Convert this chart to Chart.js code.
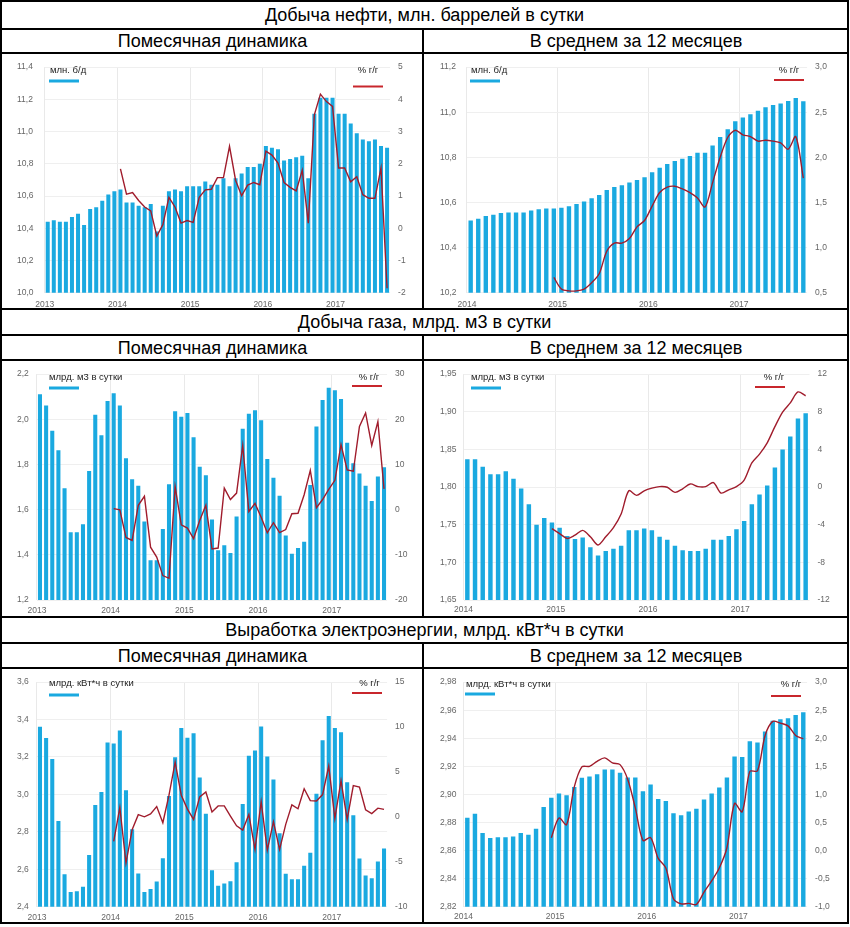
<!DOCTYPE html>
<html lang="ru">
<head>
<meta charset="utf-8">
<title>Добыча нефти, газа и выработка электроэнергии</title>
<script src="https://cdn.jsdelivr.net/npm/chart.js@4.4.1/dist/chart.umd.min.js"></script>
<style>
  html, body { margin: 0; padding: 0; background: #fff; }
  #page { position: relative; width: 850px; height: 927px; overflow: hidden; font-family: "Liberation Sans", Arial, sans-serif; }
  .hl { position: absolute; height: 2px; background: #000; }
  .vl { position: absolute; width: 2px; background: #000; }
  .cell { position: absolute; display: flex; align-items: center; justify-content: center; font-size: 18px; color: #000; white-space: nowrap; }
  canvas { position: absolute; }
</style>
</head>
<body>
<div id="page">
  <div class="cell" style="left:2px;top:2px;width:845px;height:26px">Добыча нефти, млн. баррелей в сутки</div>
  <div class="cell" style="left:2px;top:29px;width:421px;height:24px">Помесячная динамика</div>
  <div class="cell" style="left:425px;top:29px;width:422px;height:24px">В среднем за 12 месяцев</div>

  <div class="cell" style="left:2px;top:310px;width:845px;height:25px">Добыча газа, млрд. м3 в сутки</div>
  <div class="cell" style="left:2px;top:336px;width:421px;height:24px">Помесячная динамика</div>
  <div class="cell" style="left:425px;top:336px;width:422px;height:24px">В среднем за 12 месяцев</div>

  <div class="cell" style="left:2px;top:618px;width:845px;height:25px">Выработка электроэнергии, млрд. кВт*ч в сутки</div>
  <div class="cell" style="left:2px;top:644px;width:421px;height:24px">Помесячная динамика</div>
  <div class="cell" style="left:425px;top:644px;width:422px;height:24px">В среднем за 12 месяцев</div>

  <canvas id="c1" width="419" height="254" style="left:2px;top:54px"></canvas>
  <canvas id="c2" width="421" height="254" style="left:425px;top:54px"></canvas>
  <canvas id="c3" width="419" height="255" style="left:2px;top:361px"></canvas>
  <canvas id="c4" width="421" height="255" style="left:425px;top:361px"></canvas>
  <canvas id="c5" width="419" height="253" style="left:2px;top:669px"></canvas>
  <canvas id="c6" width="421" height="253" style="left:425px;top:669px"></canvas>

  <div class="hl" style="left:0;top:0;width:849px"></div>
  <div class="hl" style="left:0;top:28px;width:849px"></div>
  <div class="hl" style="left:0;top:52px;width:849px"></div>
  <div class="hl" style="left:0;top:308px;width:849px"></div>
  <div class="hl" style="left:0;top:334px;width:849px"></div>
  <div class="hl" style="left:0;top:359px;width:849px"></div>
  <div class="hl" style="left:0;top:616px;width:849px"></div>
  <div class="hl" style="left:0;top:642px;width:849px"></div>
  <div class="hl" style="left:0;top:667px;width:849px"></div>
  <div class="hl" style="left:0;top:922px;width:849px"></div>
  <div class="vl" style="left:0;top:0;height:924px"></div>
  <div class="vl" style="left:847px;top:0;height:924px"></div>
  <div class="vl" style="left:422px;top:28px;height:282px"></div>
  <div class="vl" style="left:422px;top:334px;height:284px"></div>
  <div class="vl" style="left:422px;top:642px;height:282px"></div>
</div>
<script>
// tick labels on the time axis
var years = ['2013', '2014', '2015', '2016', '2017'];

// oil, mln barrels per day: monthly Jan 2013 - Sep 2017
var oilMonthly = [
  10.44, 10.45, 10.44, 10.44, 10.47, 10.49, 10.42, 10.52, 10.53, 10.57, 10.61, 10.63,
  10.64, 10.56, 10.56, 10.54, 10.53, 10.55, 10.38, 10.54, 10.63, 10.64, 10.63, 10.66,
  10.66, 10.66, 10.69, 10.67, 10.67, 10.71, 10.66, 10.71, 10.74, 10.78, 10.78, 10.80,
  10.91, 10.90, 10.89, 10.82, 10.83, 10.84, 10.85, 10.71, 11.11, 11.21, 11.21, 11.21,
  11.11, 11.11, 11.05, 10.99, 10.95, 10.94, 10.95, 10.91, 10.90
];
// % y/y, Jan 2014 - Sep 2017
var oilMonthlyYoY = [
  1.84, 1.06, 1.11, 0.86, 0.66, 0.54, -0.24, 0.11, 0.96, 0.66, 0.16, 0.24,
  0.18, 0.96, 1.19, 1.21, 1.57, 1.57, 2.54, 1.49, 1.01, 1.34, 1.42, 1.35,
  2.39, 2.27, 2.02, 1.42, 1.27, 1.16, 1.80, 0.16, 3.52, 4.16, 3.93, 3.78,
  1.87, 1.87, 1.44, 1.60, 1.04, 0.93, 0.93, 1.87, -1.86
];
// 12-month average, Jan 2014 - Sep 2017
var oilAvg = [
  10.520, 10.528, 10.540, 10.545, 10.553, 10.555, 10.555, 10.555, 10.564, 10.570, 10.573, 10.573,
  10.576, 10.583, 10.593, 10.604, 10.619, 10.633, 10.655, 10.668, 10.676, 10.688, 10.700, 10.712,
  10.734, 10.754, 10.771, 10.784, 10.794, 10.806, 10.820, 10.820, 10.852, 10.890, 10.925, 10.960,
  10.977, 10.991, 11.007, 11.022, 11.032, 11.039, 11.050, 11.063, 11.049
];
// % y/y of the average, Dec 2014 - Sep 2017
var oilAvgYoY = [
  0.67,
  0.54, 0.52, 0.52, 0.54, 0.61, 0.71, 0.96, 1.05, 1.05, 1.10, 1.23, 1.30,
  1.46, 1.61, 1.67, 1.68, 1.65, 1.61, 1.55, 1.45, 1.72, 2.00, 2.22, 2.30,
  2.25, 2.23, 2.18, 2.19, 2.18, 2.16, 2.09, 2.23, 1.77
];

// gas, bcm per day
var gasMonthly = [
  2.111, 2.061, 1.949, 1.863, 1.695, 1.500, 1.500, 1.535, 1.771, 2.020, 1.929, 2.081,
  2.115, 2.061, 1.828, 1.734, 1.706, 1.547, 1.376, 1.376, 1.514, 1.712, 2.035, 2.011,
  2.028, 1.920, 1.790, 1.752, 1.556, 1.420, 1.442, 1.408, 1.570, 1.958, 2.025, 2.040,
  1.996, 1.824, 1.741, 1.662, 1.486, 1.405, 1.430, 1.458, 1.709, 1.968, 2.085, 2.140,
  2.128, 2.090, 1.896, 1.805, 1.760, 1.706, 1.638, 1.747, 1.788
];
var gasMonthlyYoY = [
  0.23, -0.06, -6.16, -6.8, 0.95, 2.96, -8.3, -10.5, -14.6, -15.2, 5.1, -3.36,
  -4.07, -6.4, -2.4, 1.0, -8.7, -8.5, 4.75, 2.24, 3.67, 14.2, -0.42, 1.38,
  -1.7, -5.1, -2.9, -5.1, -4.4, -0.9, -0.8, 3.3, 8.7, 0.44, 2.24, 4.5,
  6.5, 14.4, 8.8, 8.5, 18.4, 21.4, 14.2, 19.5, 4.6
];
var gasAvg = [
  1.837, 1.837, 1.827, 1.817, 1.817, 1.821, 1.811, 1.798, 1.777, 1.750, 1.759, 1.753,
  1.746, 1.735, 1.731, 1.733, 1.720, 1.709, 1.715, 1.718, 1.722, 1.7425, 1.7425, 1.745,
  1.7425, 1.734, 1.730, 1.722, 1.716, 1.715, 1.715, 1.718, 1.730, 1.730, 1.735, 1.744,
  1.755, 1.777, 1.790, 1.802, 1.826, 1.850, 1.867, 1.891, 1.898
];
var gasAvgYoY = [
  -4.42,
  -4.94, -5.46, -5.11, -4.6, -5.28, -6.15, -5.28, -4.32, -2.87, -0.4, -0.88, -0.4,
  -0.12, 0.05, -0.02, -0.57, -0.19, 0.33, 0.05, 0.05, 0.47, -0.64, -0.29, 0.05,
  0.74, 2.57, 3.5, 4.7, 6.42, 7.97, 8.94, 10.1, 9.7
];

// electricity, bn kWh per day
var elMonthly = [
  3.362, 3.301, 3.189, 2.858, 2.574, 2.479, 2.483, 2.507, 2.676, 2.944, 3.013, 3.277,
  3.272, 3.341, 3.022, 2.814, 2.578, 2.478, 2.495, 2.535, 2.659, 2.992, 3.199, 3.355,
  3.303, 3.327, 3.090, 2.896, 2.595, 2.512, 2.524, 2.536, 2.637, 2.949, 3.206, 3.234,
  3.363, 3.203, 3.079, 2.792, 2.576, 2.547, 2.547, 2.619, 2.688, 3.003, 3.289, 3.419,
  3.355, 3.332, 3.065, 2.889, 2.657, 2.567, 2.552, 2.642, 2.711
];
var elMonthlyYoY = [
  -2.73, 1.04, -5.14, -1.44, 0.25, 0.0, 0.32, 1.15, -0.65, 2.41, 6.08, 2.41,
  0.86, -0.29, 2.23, 2.77, 0.54, 1.22, 1.22, 0.07, -1.0, -1.47, 0.25, -3.63,
  1.69, -3.7, -0.54, -3.63, -0.83, 1.33, 0.9, 3.13, 1.8, 1.76, 2.48, 5.65,
  -0.18, 4.03, -0.29, 3.49, 3.31, 0.79, 0.36, 0.97, 0.83
];
var elAvg = [
  2.8833, 2.8863, 2.8725, 2.8690, 2.8695, 2.8695, 2.8700, 2.8725, 2.8713, 2.8755, 2.8910, 2.8976,
  2.9006, 2.8994, 2.9052, 2.9119, 2.9128, 2.9144, 2.9178, 2.9178, 2.9155, 2.9121, 2.9120, 2.9022,
  2.9070, 2.8967, 2.8953, 2.8865, 2.8851, 2.8879, 2.8897, 2.8964, 2.9006, 2.9049, 2.9120, 2.9270,
  2.9266, 2.9379, 2.9369, 2.9448, 2.9524, 2.9535, 2.9542, 2.9565, 2.9586
];
var elAvgYoY = [
  0.23,
  0.58, 0.46, 1.13, 1.49, 1.50, 1.59, 1.65, 1.56, 1.53, 1.27, 0.76, 0.18,
  0.23, -0.14, -0.31, -0.86, -0.95, -0.94, -0.96, -0.74, -0.54, -0.31, 0.05, 0.84,
  0.69, 1.41, 1.42, 2.05, 2.30, 2.27, 2.22, 2.05, 1.99
];

var BAR = '#1aa9e0';
var LINE = '#a01c2c';
var LEGEND_RED = '#c8262c';
var GRID = '#efefef';
var TICK_FONT = { family: '"Liberation Sans", Arial, sans-serif', size: 8.5 };

function monthLabels(fromYear, count) {
  var out = [];
  years.forEach(function (y) {
    if (+y < fromYear) return;
    for (var m = 1; m <= 12; m++) out.push(y + '-' + (m < 10 ? '0' : '') + m);
  });
  return out.slice(0, count);
}

function fmt(v, dec) {
  return v.toFixed(dec).replace('.', ',');
}

var miniLegend = {
  id: 'miniLegend',
  afterDraw: function (chart, args, o) {
    var c = chart.ctx;
    c.save();
    c.font = '9.5px "Liberation Sans", Arial, sans-serif';
    c.textBaseline = 'middle';
    c.fillStyle = '#222';
    c.textAlign = 'left';
    c.fillText(o.unit, o.ux, o.uy);
    c.fillStyle = BAR;
    c.fillRect(o.bx, o.by - 1.5, 30, 3);
    c.fillStyle = '#222';
    c.textAlign = 'center';
    c.fillText('% г/г', o.rx, o.ry);
    c.strokeStyle = LEGEND_RED;
    c.lineWidth = 2;
    c.beginPath();
    c.moveTo(o.lx, o.ly);
    c.lineTo(o.lx + 30, o.ly);
    c.stroke();
    c.restore();
  }
};

function panel(p) {
  var labels = monthLabels(p.fromYear, p.bars.length);
  var lineData = labels.map(function (l, i) {
    return i < p.lineFrom ? null : p.line[i - p.lineFrom];
  });
  var bx = p.box[0], by = p.box[1], bw = p.box[2], bh = p.box[3];
  var step = (p.plot[1] - p.plot[0]) / labels.length;

  new Chart(document.getElementById(p.id), {
    type: 'bar',
    data: {
      labels: labels,
      datasets: [
        { type: 'line', data: lineData, yAxisID: 'y1', borderColor: LINE, borderWidth: 1.4,
          pointRadius: 0, tension: p.tension, order: 0 },
        { type: 'bar', data: p.bars, yAxisID: 'y', backgroundColor: BAR,
          categoryPercentage: 1, barPercentage: p.barPct, order: 1 }
      ]
    },
    options: {
      responsive: false,
      animation: false,
      events: [],
      layout: { padding: { left: p.labelX - bx, top: p.plot[2] - by, right: 0, bottom: 0 } },
      plugins: {
        legend: { display: false },
        tooltip: { enabled: false },
        miniLegend: {
          unit: p.unit,
          ux: p.leg.ux - bx, uy: p.leg.uy - by,
          bx: p.leg.bx - bx, by: p.leg.by - by,
          rx: p.leg.rx - bx, ry: p.leg.ry - by,
          lx: p.leg.lx - bx, ly: p.leg.ly - by
        }
      },
      scales: {
        x: {
          offset: true,
          border: { display: false },
          grid: {
            offset: true, drawTicks: false,
            color: function (ctx) { return ctx.index % 12 === 0 ? '#e9e9e9' : 'rgba(0,0,0,0)'; }
          },
          ticks: {
            autoSkip: false, maxRotation: 0, font: TICK_FONT, color: '#666',
            padding: p.xPad, labelOffset: -step / 2,
            callback: function (v) {
              var l = this.getLabelForValue(v);
              return l.slice(5) === '01' ? l.slice(0, 4) : '';
            }
          },
          afterFit: function (s) { s.height = by + bh - p.plot[3]; }
        },
        y: {
          position: 'left', min: p.y[0], max: p.y[1],
          border: { display: false },
          grid: { color: GRID, drawTicks: false },
          ticks: {
            stepSize: p.y[2], font: TICK_FONT, color: '#666', crossAlign: 'far',
            callback: function (v) { return fmt(v, p.y[3]); }
          },
          afterFit: function (s) { s.width = p.plot[0] - p.labelX; }
        },
        y1: {
          position: 'right', min: p.y1[0], max: p.y1[1],
          border: { display: false },
          grid: { display: false, drawTicks: false },
          ticks: {
            stepSize: p.y1[2], font: TICK_FONT, color: '#666', padding: 8,
            callback: function (v) { return fmt(v, p.y1[3]); }
          },
          afterFit: function (s) { s.width = bx + bw - p.plot[1]; }
        }
      }
    },
    plugins: [miniLegend]
  });
}

panel({
  id: 'c1', box: [2, 54, 419, 254], plot: [44.7, 390.1, 61, 292.7], labelX: 17, xPad: 7,
  fromYear: 2013, bars: oilMonthly, line: oilMonthlyYoY, lineFrom: 12, tension: 0, barPct: 0.66,
  y: [10.0, 11.4, 0.2, 1], y1: [-2, 5, 1, 0], unit: 'млн. б/д',
  leg: { ux: 50, uy: 70, bx: 49, by: 81, rx: 368, ry: 70, lx: 353, ly: 86.5 }
});
panel({
  id: 'c2', box: [425, 54, 421, 254], plot: [466.9, 807.1, 61, 292.7], labelX: 440, xPad: 7,
  fromYear: 2014, bars: oilAvg, line: oilAvgYoY, lineFrom: 11, tension: 0.3, barPct: 0.58,
  y: [10.2, 11.2, 0.2, 1], y1: [0.5, 3.0, 0.5, 1], unit: 'млн. б/д',
  leg: { ux: 471, uy: 70, bx: 470, by: 81, rx: 789, ry: 70, lx: 774, ly: 80 }
});
panel({
  id: 'c3', box: [2, 361, 419, 255], plot: [36.9, 387.1, 367.7, 600], labelX: 17, xPad: 6,
  fromYear: 2013, bars: gasMonthly, line: gasMonthlyYoY, lineFrom: 12, tension: 0, barPct: 0.66,
  y: [1.2, 2.2, 0.2, 1], y1: [-20, 30, 10, 0], unit: 'млрд. м3 в сутки',
  leg: { ux: 49, uy: 377, bx: 49, by: 388, rx: 369, ry: 377, lx: 352, ly: 386 }
});
panel({
  id: 'c4', box: [425, 361, 421, 255], plot: [463.5, 809.5, 367.7, 600], labelX: 440, xPad: 5,
  fromYear: 2014, bars: gasAvg, line: gasAvgYoY, lineFrom: 11, tension: 0.3, barPct: 0.58,
  y: [1.65, 1.95, 0.05, 2], y1: [-12, 12, 4, 0], unit: 'млрд. м3 в сутки',
  leg: { ux: 471, uy: 377, bx: 471, by: 388, rx: 774, ry: 377, lx: 755, ly: 387 }
});
panel({
  id: 'c5', box: [2, 669, 419, 253], plot: [36.9, 387.1, 675, 906.7], labelX: 17, xPad: 6,
  fromYear: 2013, bars: elMonthly, line: elMonthlyYoY, lineFrom: 12, tension: 0, barPct: 0.66,
  y: [2.4, 3.6, 0.2, 1], y1: [-10, 15, 5, 0], unit: 'млрд. кВт*ч в сутки',
  leg: { ux: 49, uy: 683, bx: 49, by: 695, rx: 369.5, ry: 683, lx: 352, ly: 693 }
});
panel({
  id: 'c6', box: [425, 669, 421, 253], plot: [463.5, 807.1, 675, 906.7], labelX: 440, xPad: 5,
  fromYear: 2014, bars: elAvg, line: elAvgYoY, lineFrom: 11, tension: 0.3, barPct: 0.58,
  y: [2.82, 2.98, 0.02, 2], y1: [-1, 3, 0.5, 1], unit: 'млрд. кВт*ч в сутки',
  leg: { ux: 466, uy: 684, bx: 465, by: 694, rx: 791, ry: 684, lx: 771, ly: 696 }
});
</script>
</body>
</html>
